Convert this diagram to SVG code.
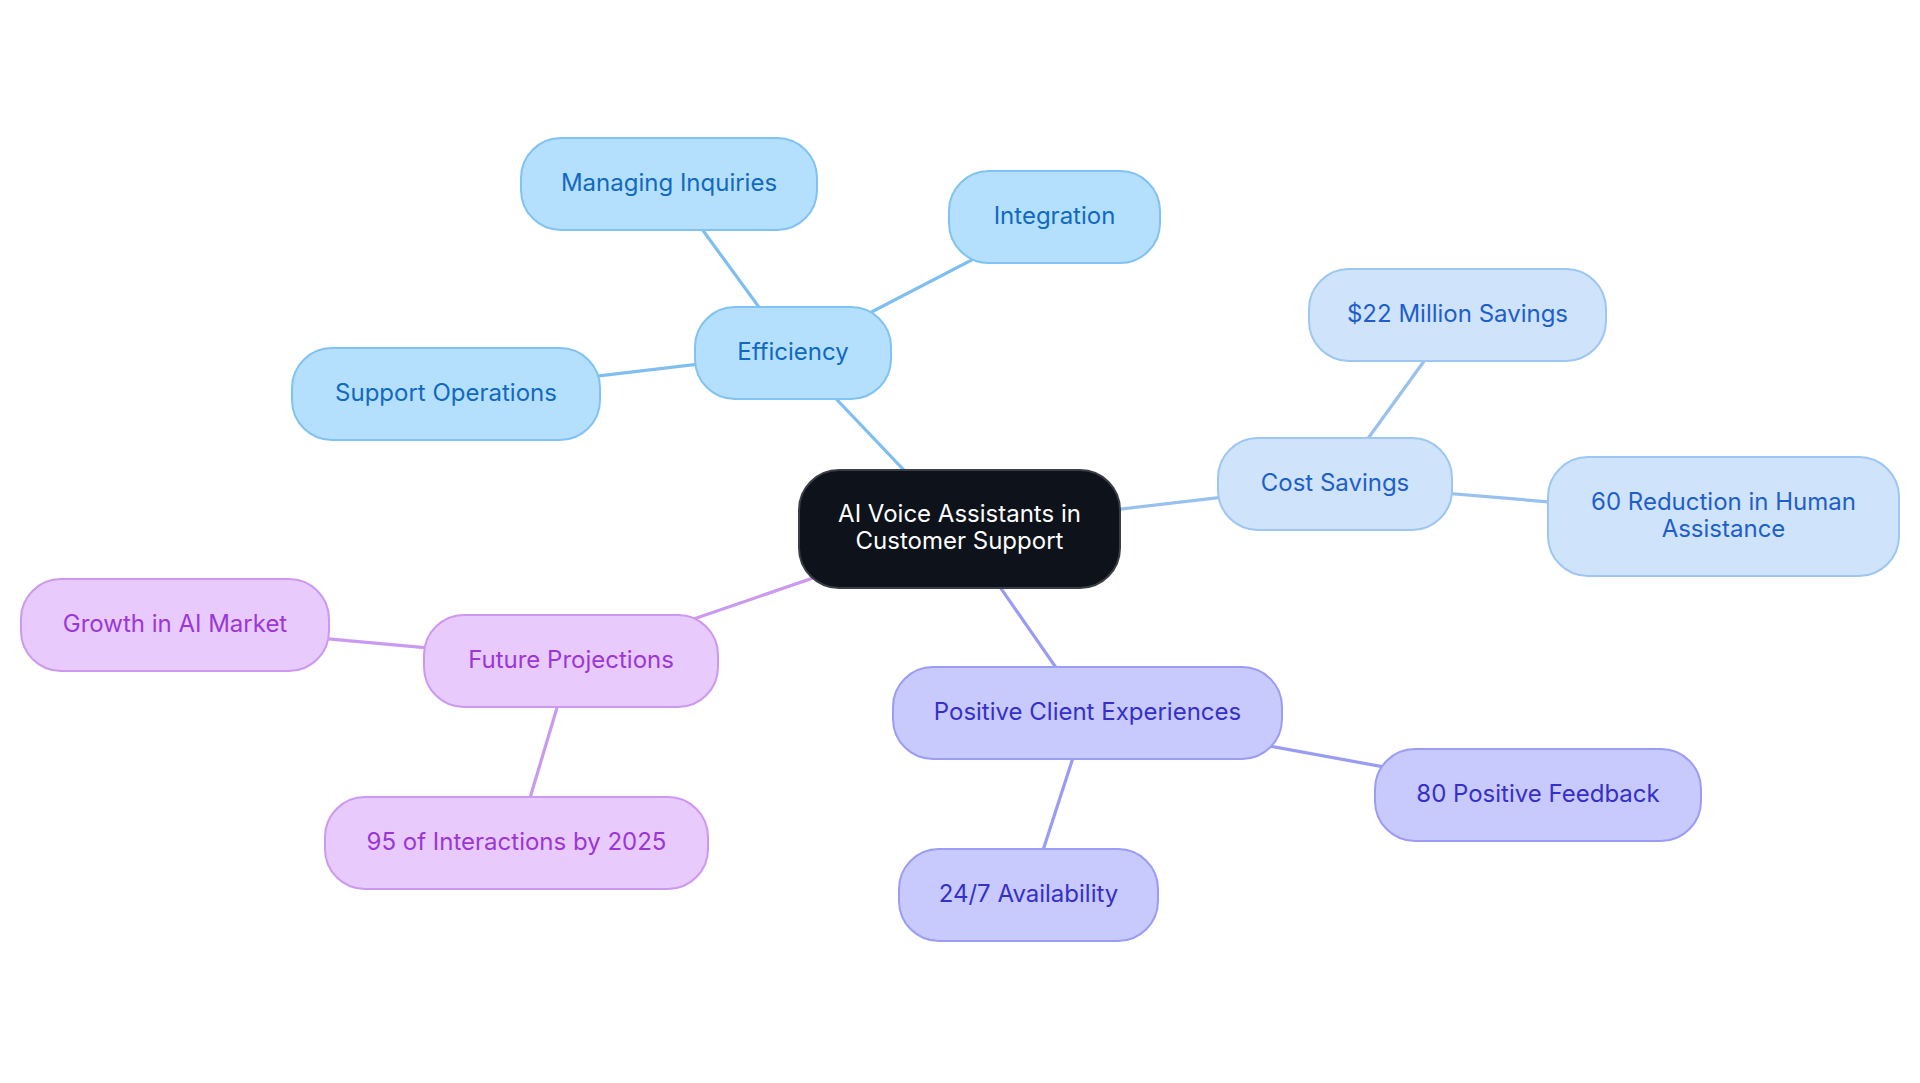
<svg xmlns="http://www.w3.org/2000/svg" width="1920" height="1083" viewBox="0 0 1920 1083">
<style>
  text { font-family: Inter, "Noto Sans", "Liberation Sans", sans-serif; font-size: 24px; text-anchor: middle; }
  .edge { stroke-width: 3.2; fill: none; stroke-linecap: round; }
  .e-eff { stroke: #7fbff0; }
  .e-cost { stroke: #98c1ef; }
  .e-pos { stroke: #9a9bf3; }
  .e-fut { stroke: #c99af0; }
  .n-root rect { fill: #0d121b; stroke: #3a3f47; stroke-width: 2; }
  .n-root text { fill: #ffffff; }
  .n-eff rect { fill: #b5e0fd; stroke: #80c2f2; stroke-width: 2; }
  .n-eff text { fill: #1169c0; }
  .n-cost rect { fill: #cfe3fb; stroke: #9dc6f2; stroke-width: 2; }
  .n-cost text { fill: #1e5fc9; }
  .n-pos rect { fill: #c8c9fd; stroke: #9b9cf3; stroke-width: 2; }
  .n-pos text { fill: #3530c8; }
  .n-fut rect { fill: #e8cafd; stroke: #cc98f0; stroke-width: 2; }
  .n-fut text { fill: #9b37d6; }
</style>
<rect width="1920" height="1083" fill="#ffffff"/>
<g id="connectors">
  <line class="edge e-eff" x1="959" y1="528" x2="792.5" y2="353"/>
  <line class="edge e-eff" x1="792.5" y1="353" x2="669" y2="184"/>
  <line class="edge e-eff" x1="792.5" y1="353" x2="1054.5" y2="217"/>
  <line class="edge e-eff" x1="792.5" y1="353" x2="445.5" y2="394"/>
  <line class="edge e-cost" x1="959" y1="528" x2="1335" y2="484"/>
  <line class="edge e-cost" x1="1335" y1="484" x2="1457.5" y2="315"/>
  <line class="edge e-cost" x1="1335" y1="484" x2="1723.5" y2="516.5"/>
  <line class="edge e-pos" x1="959" y1="528" x2="1087.5" y2="713"/>
  <line class="edge e-pos" x1="1087.5" y1="713" x2="1538" y2="795"/>
  <line class="edge e-pos" x1="1087.5" y1="713" x2="1028.5" y2="895"/>
  <line class="edge e-fut" x1="959" y1="528" x2="571" y2="661"/>
  <line class="edge e-fut" x1="571" y1="661" x2="175" y2="625"/>
  <line class="edge e-fut" x1="571" y1="661" x2="516.5" y2="843"/>
</g>
<g id="node-root" class="n-root">
  <rect x="799" y="470" width="321" height="118" rx="40"/>
  <text x="959.5" y="521.5">AI Voice Assistants in</text>
  <text x="959.5" y="548.5">Customer Support</text>
</g>
<g id="node-efficiency" class="n-eff">
  <rect x="695" y="307" width="196" height="92" rx="40"/>
  <text x="793" y="360">Efficiency</text>
</g>
<g id="node-managing" class="n-eff">
  <rect x="521" y="138" width="296" height="92" rx="40"/>
  <text x="669" y="191">Managing Inquiries</text>
</g>
<g id="node-integration" class="n-eff">
  <rect x="949" y="171" width="211" height="92" rx="40"/>
  <text x="1054.5" y="224">Integration</text>
</g>
<g id="node-support" class="n-eff">
  <rect x="292" y="348" width="308" height="92" rx="40"/>
  <text x="446" y="401">Support Operations</text>
</g>
<g id="node-cost" class="n-cost">
  <rect x="1218" y="438" width="234" height="92" rx="40"/>
  <text x="1335" y="491">Cost Savings</text>
</g>
<g id="node-22m" class="n-cost">
  <rect x="1309" y="269" width="297" height="92" rx="40"/>
  <text x="1457.5" y="322">$22 Million Savings</text>
</g>
<g id="node-60" class="n-cost">
  <rect x="1548" y="457" width="351" height="119" rx="40"/>
  <text x="1723.5" y="509.5">60 Reduction in Human</text>
  <text x="1723.5" y="536.5">Assistance</text>
</g>
<g id="node-positive" class="n-pos">
  <rect x="893" y="667" width="389" height="92" rx="40"/>
  <text x="1087.5" y="720">Positive Client Experiences</text>
</g>
<g id="node-80" class="n-pos">
  <rect x="1375" y="749" width="326" height="92" rx="40"/>
  <text x="1538" y="802">80 Positive Feedback</text>
</g>
<g id="node-247" class="n-pos">
  <rect x="899" y="849" width="259" height="92" rx="40"/>
  <text x="1028.5" y="902">24/7 Availability</text>
</g>
<g id="node-future" class="n-fut">
  <rect x="424" y="615" width="294" height="92" rx="40"/>
  <text x="571" y="668">Future Projections</text>
</g>
<g id="node-growth" class="n-fut">
  <rect x="21" y="579" width="308" height="92" rx="40"/>
  <text x="175" y="632">Growth in AI Market</text>
</g>
<g id="node-95" class="n-fut">
  <rect x="325" y="797" width="383" height="92" rx="40"/>
  <text x="516.5" y="850">95 of Interactions by 2025</text>
</g>
</svg>
